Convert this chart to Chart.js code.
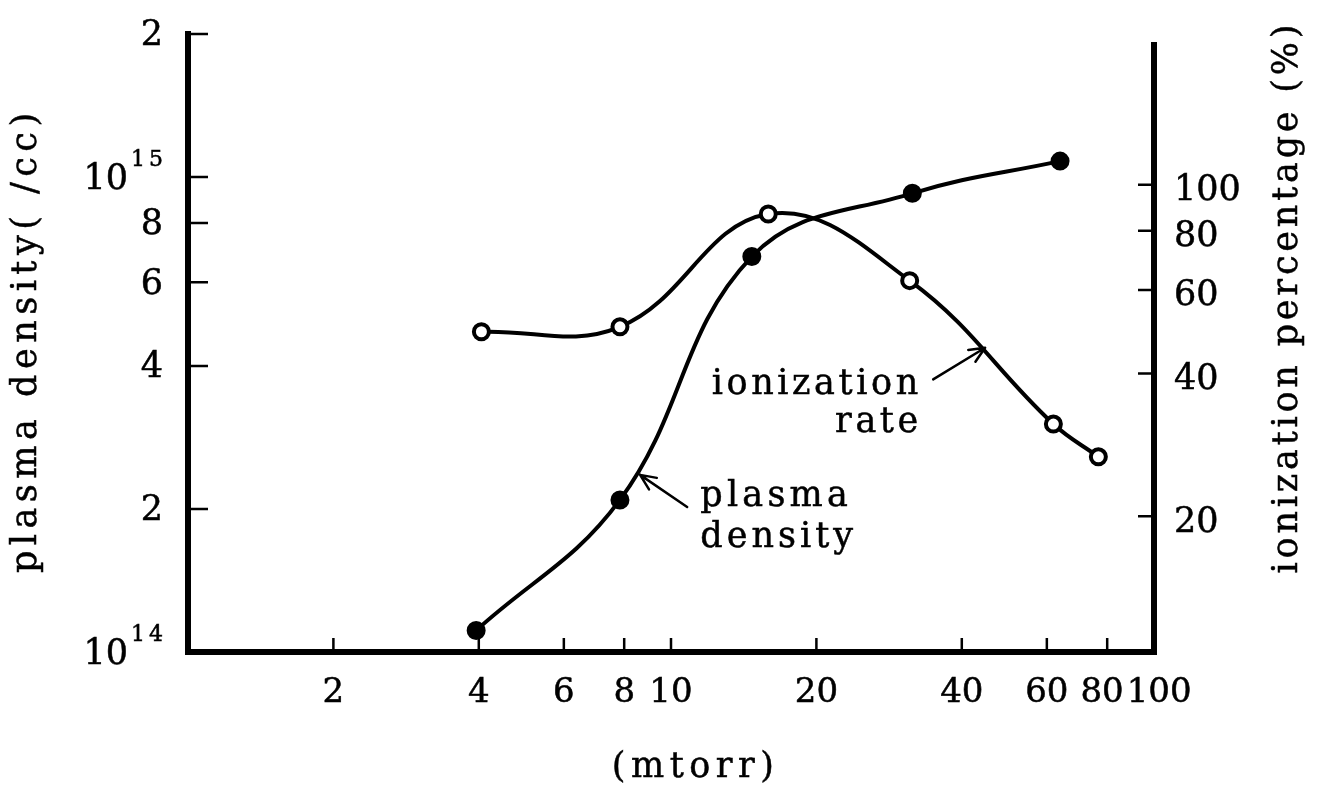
<!DOCTYPE html>
<html>
<head>
<meta charset="utf-8">
<script src="https://cdn.jsdelivr.net/npm/chart.js@4.4.1/dist/chart.umd.min.js"></script>
<style>
html,body{margin:0;padding:0;background:#fff;}
#wrap{width:1324px;height:789px;position:relative;}
</style>
</head>
<body>
<div id="wrap"><canvas id="c"></canvas></div>
<script>
// ---- data ----
const densityPressure = [3.95, 7.84, 14.7, 31.6, 63.9];           // mtorr
const densityValues   = [1.11e14, 2.09e14, 6.8e14, 9.24e14, 1.08e15]; // /cc
const ionPressure     = [4.05, 7.84, 15.9, 31.2, 61.9, 76.7];     // mtorr
const ionValues       = [49.0, 50.2, 86.8, 62.8, 31.3, 26.7];     // %

const xTicks      = [2, 4, 6, 8, 10, 20, 40, 60, 80, 100];
const xTickLabels = ['2', '4', '6', '8', '10', '20', '40', '60', '80', '100'];
const yTicks      = [1e14, 2e14, 4e14, 6e14, 8e14, 1e15, 2e15];
const yTickLabels = ['', '2', '4', '6', '8', '', '2'];
const yPowerTicks = [1e14, 1e15];
const yPowerBase  = ['10', '10'];
const yPowerExp   = ['14', '15'];
const y2Ticks      = [20, 40, 60, 80, 100];
const y2TickLabels = ['20', '40', '60', '80', '100'];

const leftTitle  = 'plasma density( /cc)';
const rightTitle = 'ionization percentage (%)';
const xTitle     = '(mtorr)';

const FONT = '"DejaVu Serif", serif';

function textWidth(ctx, s, size, sp) {
  ctx.save();
  ctx.font = size + 'px ' + FONT;
  ctx.letterSpacing = (sp || 0) + 'px';
  const w = ctx.measureText(s).width - (sp || 0);
  ctx.restore();
  return w;
}

function drawText(ctx, s, x, y, o) {
  ctx.save();
  const size = o.size || 35;
  ctx.font = size + 'px ' + FONT;
  const sp = o.spacing || 0;
  ctx.letterSpacing = sp + 'px';
  const w = ctx.measureText(s).width - sp;
  ctx.translate(x, y);
  if (o.rotate) ctx.rotate(o.rotate);
  const ox = o.align === 'right' ? -w : (o.align === 'center' ? -w / 2 : 0);
  ctx.textAlign = 'left';
  ctx.textBaseline = o.baseline || 'alphabetic';
  ctx.fillStyle = '#000';
  ctx.fillText(s, ox, 0);
  ctx.strokeStyle = '#000';
  ctx.lineWidth = 0.5;
  ctx.strokeText(s, ox, 0);
  ctx.restore();
}

function arrow(ctx, x1, y1, x2, y2) {
  ctx.save();
  ctx.strokeStyle = '#000';
  ctx.lineWidth = 2.5;
  ctx.lineCap = 'round';
  ctx.beginPath();
  ctx.moveTo(x1, y1); ctx.lineTo(x2, y2);
  const a = Math.atan2(y2 - y1, x2 - x1);
  const L = 17, h = 0.42;
  ctx.moveTo(x2, y2); ctx.lineTo(x2 - L * Math.cos(a - h), y2 - L * Math.sin(a - h));
  ctx.moveTo(x2, y2); ctx.lineTo(x2 - L * Math.cos(a + h), y2 - L * Math.sin(a + h));
  ctx.stroke();
  ctx.restore();
}

function noPad(s) { s.paddingTop = 0; s.paddingBottom = 0; s.paddingLeft = 0; s.paddingRight = 0; }

const TICK_SIZE = 34;
const DIGIT_MID = 0.36; // digit visual centre above the baseline, in em

const decor = {
  id: 'decor',
  afterDraw(chart) {
    const ctx = chart.ctx;
    const x = chart.scales.x, y = chart.scales.y, y2 = chart.scales.y2;
    const ca = chart.chartArea;
    ctx.save();
    ctx.strokeStyle = '#000';
    // right axis line (starts a little below the top)
    ctx.lineWidth = 6;
    ctx.beginPath();
    ctx.moveTo(ca.right, y2.getPixelForValue(200));
    ctx.lineTo(ca.right, ca.bottom + 3);
    ctx.stroke();
    // inward tick marks
    ctx.lineWidth = 2.5;
    ctx.beginPath();
    yTicks.forEach(v => {
      if (v === y.min) return;
      const p = y.getPixelForValue(v);
      ctx.moveTo(ca.left, p); ctx.lineTo(ca.left + 20, p);
    });
    xTicks.forEach(v => {
      if (v === x.max) return;
      const p = x.getPixelForValue(v);
      ctx.moveTo(p, ca.bottom); ctx.lineTo(p, ca.bottom - 14);
    });
    y2Ticks.forEach(v => {
      const p = y2.getPixelForValue(v);
      ctx.moveTo(ca.right, p); ctx.lineTo(ca.right - 16, p);
    });
    ctx.stroke();
    ctx.restore();

    const base = TICK_SIZE * DIGIT_MID;

    // x tick labels: centred on ticks, neighbours pushed apart when they collide
    const items = xTicks.map((v, i) => {
      const w = textWidth(ctx, xTickLabels[i], TICK_SIZE, 0);
      return {c: x.getPixelForValue(v), w};
    });
    for (let k = 0; k < 3; k++) {
      for (let i = 1; i < items.length; i++) {
        const a = items[i - 1], b = items[i];
        const overlap = (a.c + a.w / 2 + 3) - (b.c - b.w / 2);
        if (overlap > 0) { a.c -= overlap / 2; b.c += overlap / 2; }
      }
    }
    items.forEach((it, i) => {
      drawText(ctx, xTickLabels[i], it.c, ca.bottom + 38 + base, {size: TICK_SIZE, align: 'center'});
    });

    // left tick labels
    yTicks.forEach((v, i) => {
      if (!yTickLabels[i]) return;
      const p = y.getPixelForValue(v);
      drawText(ctx, yTickLabels[i], ca.left - 25, p - 1 + base, {size: TICK_SIZE + 1, align: 'right'});
    });
    // powers of ten on the left axis
    yPowerTicks.forEach((v, i) => {
      const p = y.getPixelForValue(v);
      drawText(ctx, yPowerBase[i], ca.left - 60, p + 12, {size: 35, align: 'right'});
      drawText(ctx, yPowerExp[i], ca.left - 57, p - 11, {size: 22, spacing: 4});
    });
    // right tick labels
    y2Ticks.forEach((v, i) => {
      const p = y2.getPixelForValue(v);
      drawText(ctx, y2TickLabels[i], ca.right + 20, p + 3 + base, {size: TICK_SIZE + 1});
    });

    // axis titles
    drawText(ctx, leftTitle, 36, (ca.top + ca.bottom) / 2, {size: 35, spacing: 5.5, align: 'center', rotate: -Math.PI / 2});
    drawText(ctx, rightTitle, 1297, (ca.top + ca.bottom) / 2 - 44, {size: 35, spacing: 3.8, align: 'center', rotate: -Math.PI / 2});
    drawText(ctx, xTitle, x.getPixelForValue(11.1), 777, {size: 35, spacing: 5.5, align: 'center'});

    // curve annotations, anchored in data space
    drawText(ctx, 'ionization', x.getPixelForValue(32.5), y.getPixelForValue(3.5e14), {size: 35, spacing: 3.6, align: 'right'});
    drawText(ctx, 'rate', x.getPixelForValue(32.5), y.getPixelForValue(2.9e14), {size: 35, spacing: 3.6, align: 'right'});
    arrow(ctx, x.getPixelForValue(34.9), y.getPixelForValue(3.75e14), x.getPixelForValue(44.7), y.getPixelForValue(4.37e14));
    drawText(ctx, 'plasma', x.getPixelForValue(11.5), y.getPixelForValue(2.03e14), {size: 35, spacing: 4.2});
    drawText(ctx, 'density', x.getPixelForValue(11.5), y.getPixelForValue(1.66e14), {size: 35, spacing: 4});
    arrow(ctx, x.getPixelForValue(10.8), y.getPixelForValue(2.02e14), x.getPixelForValue(8.63), y.getPixelForValue(2.36e14));
  }
};

new Chart(document.getElementById('c'), {
  type: 'line',
  data: {
    datasets: [
      {
        label: 'plasma density',
        data: densityPressure.map((p, i) => ({x: p, y: densityValues[i]})),
        yAxisID: 'y',
        borderColor: '#000',
        borderWidth: 4,
        tension: 0.4,
        pointRadius: 8.5,
        pointBackgroundColor: '#000',
        pointBorderColor: '#000',
        pointBorderWidth: 2,
        fill: false
      },
      {
        label: 'ionization rate',
        data: ionPressure.map((p, i) => ({x: p, y: ionValues[i]})),
        yAxisID: 'y2',
        borderColor: '#000',
        borderWidth: 4,
        tension: 0.4,
        pointRadius: 7.5,
        pointBackgroundColor: '#fff',
        pointBorderColor: '#000',
        pointBorderWidth: 4,
        fill: false
      }
    ]
  },
  options: {
    responsive: true,
    maintainAspectRatio: false,
    animation: false,
    layout: {padding: {top: 34, left: 0, right: 0, bottom: 0}},
    plugins: {legend: {display: false}, tooltip: {enabled: false}},
    scales: {
      x: {
        type: 'logarithmic',
        min: 1, max: 100, bounds: 'data',
        afterBuildTicks: s => { s.ticks = xTicks.map(v => ({value: v})); },
        afterFit: s => { s.height = 137; noPad(s); },
        grid: {display: false, drawTicks: false},
        border: {display: true, color: '#000', width: 6},
        ticks: {display: false}
      },
      y: {
        type: 'logarithmic', position: 'left',
        min: 1e14, max: 2e15, bounds: 'data',
        afterBuildTicks: s => { s.ticks = yTicks.map(v => ({value: v})); },
        afterFit: s => { s.width = 188; noPad(s); },
        grid: {display: false, drawTicks: false},
        border: {display: true, color: '#000', width: 6},
        ticks: {display: false}
      },
      y2: {
        type: 'logarithmic', position: 'right',
        min: 10.35, max: 208, bounds: 'data',
        afterBuildTicks: s => { s.ticks = y2Ticks.map(v => ({value: v})); },
        afterFit: s => { s.width = 170; noPad(s); },
        grid: {display: false, drawTicks: false},
        border: {display: false},
        ticks: {display: false}
      }
    }
  },
  plugins: [decor]
});
</script>
</body>
</html>
